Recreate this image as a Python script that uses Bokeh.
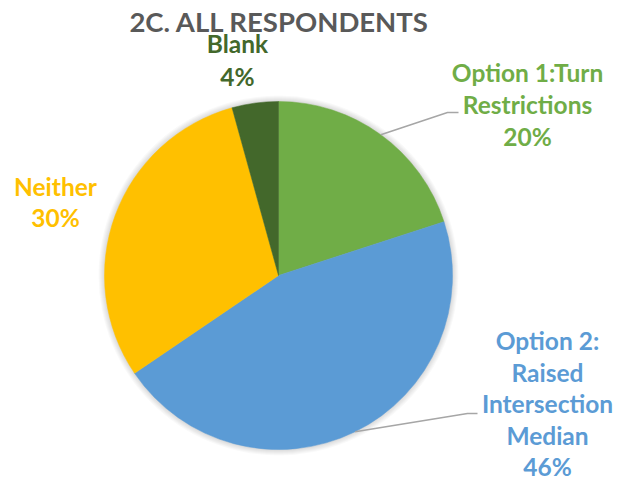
import math
from bokeh.plotting import figure
from bokeh.models import ColumnDataSource, Range1d
from bokeh.core.properties import value
from bokeh.embed import file_html
from bokeh.resources import INLINE

# ---- data ----
categories = ["Option 1:Turn Restrictions", "Option 2: Raised Intersection Median", "Neither", "Blank"]
values = [20.0, 45.5, 30.2, 4.3]
pct_labels = ["20%", "46%", "30%", "4%"]
colors = ["#70AD47", "#5B9BD5", "#FFC000", "#43682B"]
title_text = "2C. ALL RESPONDENTS"

# ---- layout ----
W, H = 617, 484
TEXT_SHIFT = 10  # compensates for baseline placement of the font
def px(x):
    return x
def py(y):
    return H - y

cx, cy, r = px(278), py(275), 174

total = sum(values)
starts, ends, mids = [], [], []
cum = 0.0
for v in values:
    a0 = math.pi / 2 - 2 * math.pi * cum / total
    cum += v
    a1 = math.pi / 2 - 2 * math.pi * cum / total
    starts.append(a1)
    ends.append(a0)
    mids.append((a0 + a1) / 2)

p = figure(width=W, height=H, x_range=Range1d(0, W), y_range=Range1d(0, H),
           output_backend="svg", toolbar_location=None, min_border=0)
p.axis.visible = False
p.grid.visible = False
p.outline_line_color = None
p.background_fill_color = "white"
p.border_fill_color = "white"

# soft shadow
for k in range(1, 7):
    p.circle(x=[cx], y=[cy], radius=r + k, fill_color="black", fill_alpha=0.025, line_color=None)

src = ColumnDataSource(dict(cat=categories, val=values, start=starts, end=ends, color=colors))
p.wedge(x=cx, y=cy, radius=r, start_angle="start", end_angle="end", direction="anticlock",
        fill_color="color", line_color="color", line_width=0.5, source=src)

# leader lines (Option 1 and Option 2)
leader_pts = {0: [(px(447), py(112)), (px(458), py(112))],
              1: [(px(467), py(413)), (px(477), py(413))]}
for i, pts in leader_pts.items():
    sx = cx + r * math.cos(mids[i])
    sy = cy + r * math.sin(mids[i])
    xs = [sx] + [q[0] for q in pts]
    ys = [sy] + [q[1] for q in pts]
    p.line(xs, ys, line_color="#A6A6A6", line_width=1.5)

# labels
label_lines = [["Option 1:Turn", "Restrictions"],
               ["Option 2:", "Raised", "Intersection", "Median"],
               ["Neither"],
               ["Blank"]]
label_anchor = [(527, 82, 32), (547, 350, 31.5), (55, 196, 31), (237, 53, 33)]

lx, ly, lt, lc = [], [], [], []
for i in range(len(categories)):
    lines = label_lines[i] + [pct_labels[i]]
    ax, ay, step = label_anchor[i]
    for j, t in enumerate(lines):
        lx.append(px(ax))
        ly.append(py(ay + j * step - TEXT_SHIFT))
        lt.append(t)
        lc.append(colors[i])

lsrc = ColumnDataSource(dict(x=lx, y=ly, text=lt, color=lc))
p.text(x="x", y="y", text="text", text_color="color", source=lsrc,
       text_font=value("Lato"), text_font_style="bold", text_font_size=value("24.5px"),
       text_align="center", text_baseline="alphabetic")

p.text(x=[px(279)], y=[py(32 - TEXT_SHIFT - 1)], text=[title_text], text_color="#595959",
       text_font=value("Lato"), text_font_style="bold", text_font_size=value("27.5px"),
       text_align="center", text_baseline="alphabetic")

open("out.html", "w").write(file_html(p, INLINE))
